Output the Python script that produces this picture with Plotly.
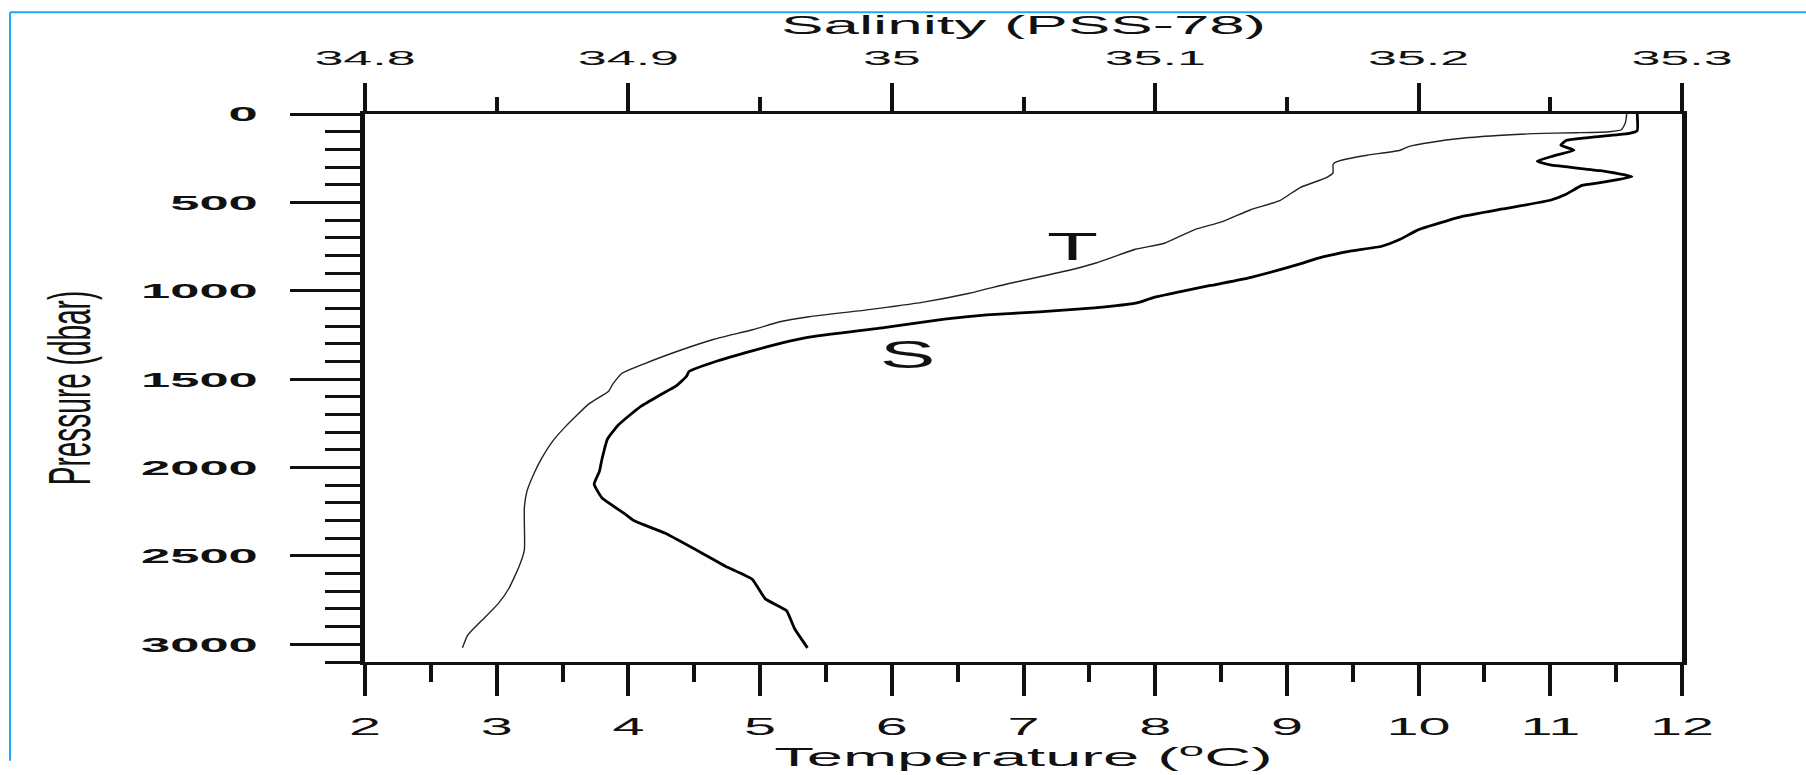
import plotly.graph_objects as go

# ---------------- data ----------------
PRESSURE_T = [0, 50, 89, 100, 106, 111, 122, 139, 160, 183, 205, 233, 260, 277, 288,
              333, 360, 416, 488, 543, 609, 654, 731, 765, 843, 887, 959, 1014, 1064,
              1108, 1147, 1175, 1219, 1274, 1335, 1413, 1468, 1530, 1568, 1640, 1770,
              1856, 1950, 2039, 2133, 2227, 2316, 2466, 2560, 2687, 2771, 2870, 2948, 3020]
TEMPERATURE = [11.58, 11.57, 11.54, 11.45, 11.2, 10.87, 10.6, 10.31, 10.1, 9.93, 9.86, 9.61,
               9.42, 9.36, 9.35, 9.35, 9.30, 9.10, 8.95, 8.72, 8.51, 8.30, 8.07, 7.85, 7.55,
               7.33, 6.89, 6.59, 6.24, 5.81, 5.37, 5.15, 4.95, 4.65, 4.40, 4.12, 3.95, 3.88,
               3.85, 3.70, 3.52, 3.42, 3.34, 3.28, 3.23, 3.21, 3.21, 3.21, 3.17, 3.09, 3.01,
               2.88, 2.78, 2.74]

PRESSURE_S = [0, 94, 110, 127, 150, 177, 205, 238, 266, 288, 321, 355, 388, 404, 454, 488,
              537, 582, 654, 709, 748, 776, 815, 848, 925, 970, 1040, 1069, 1097, 1119, 1136,
              1160, 1208, 1263, 1296, 1340, 1396, 1457, 1485, 1540, 1590, 1651, 1710, 1762,
              1840, 1950, 2022, 2094, 2172, 2255, 2300, 2372, 2493, 2560, 2632, 2743, 2809,
              2909, 3020]
SALINITY = [35.283, 35.283, 35.280, 35.269, 35.256, 35.254, 35.259, 35.251, 35.245, 35.250,
            35.269, 35.281, 35.269, 35.262, 35.256, 35.250, 35.232, 35.216, 35.200, 35.193,
            35.186, 35.174, 35.162, 35.155, 35.136, 35.121, 35.099, 35.093, 35.077, 35.056,
            35.036, 35.020, 34.997, 34.968, 34.958, 34.947, 34.934, 34.923, 34.922, 34.918,
            34.912, 34.905, 34.900, 34.896, 34.892, 34.890, 34.889, 34.887, 34.890, 34.898,
            34.902, 34.914, 34.929, 34.937, 34.947, 34.952, 34.960, 34.963, 34.968]

TEMP_TICKS = [2, 3, 4, 5, 6, 7, 8, 9, 10, 11, 12]
TEMP_LABELS = ["2", "3", "4", "5", "6", "7", "8", "9", "10", "11", "12"]
SAL_TICKS = [34.8, 34.9, 35.0, 35.1, 35.2, 35.3]
SAL_LABELS = ["34.8", "34.9", "35", "35.1", "35.2", "35.3"]
PRES_TICKS = [0, 500, 1000, 1500, 2000, 2500, 3000]
PRES_LABELS = ["0", "500", "1000", "1500", "2000", "2500", "3000"]

CURVE_NAMES = ["T", "S"]
# ---------------------------------------------------------------

FONT = "Liberation Sans, Arial, Helvetica, sans-serif"
INK = "#111111"

fig = go.Figure()
fig.add_trace(go.Scatter(x=TEMPERATURE, y=PRESSURE_T, mode="lines", name=CURVE_NAMES[0],
                         xaxis="x", yaxis="y",
                         line=dict(color="#222222", width=1.4, shape="spline", smoothing=0.5)))
fig.add_trace(go.Scatter(x=SALINITY, y=PRESSURE_S, mode="lines", name=CURVE_NAMES[1],
                         xaxis="x2", yaxis="y",
                         line=dict(color="#000000", width=2.8, shape="spline", smoothing=0.4)))

fig.update_layout(
    width=1806, height=775,
    margin=dict(l=365, r=124, t=114, b=101),
    paper_bgcolor="white", plot_bgcolor="white",
    showlegend=False,
    font=dict(family=FONT, color=INK),
    xaxis=dict(
        range=[2, 12], tickmode="array", tickvals=TEMP_TICKS, ticktext=TEMP_LABELS,
        ticks="outside", ticklen=31, tickwidth=3.5, tickcolor=INK,
        minor=dict(tick0=2, dtick=0.5, ticks="outside", ticklen=17, tickwidth=3.5, tickcolor=INK),
        showline=True, linewidth=2.5, linecolor=INK,
        showgrid=False, zeroline=False,
        tickfont=dict(size=24, color=INK), ticklabelstandoff=10,
        title=dict(text="Temperature (<sup>o</sup>C)", font=dict(size=26, color=INK), standoff=5),
    ),
    xaxis2=dict(
        range=[34.8, 35.3], overlaying="x", side="top", anchor="y",
        tickmode="array", tickvals=SAL_TICKS, ticktext=SAL_LABELS,
        ticks="outside", ticklen=28, tickwidth=3.5, tickcolor=INK,
        minor=dict(tick0=34.8, dtick=0.05, ticks="outside", ticklen=14, tickwidth=3.5, tickcolor=INK),
        showline=True, linewidth=2.5, linecolor=INK,
        showgrid=False, zeroline=False,
        tickfont=dict(size=20, color=INK), ticklabelstandoff=10,
        title=dict(text="Salinity (PSS-78)", font=dict(size=26, color=INK), standoff=6),
    ),
    yaxis=dict(
        range=[3100, 0], tickmode="array", tickvals=PRES_TICKS, ticktext=PRES_LABELS,
        ticks="outside", ticklen=70, tickwidth=2.5, tickcolor=INK,
        minor=dict(tick0=0, dtick=100, ticks="outside", ticklen=35, tickwidth=2.5, tickcolor=INK),
        showline=True, linewidth=5, linecolor=INK, mirror=True,
        showgrid=False, zeroline=False,
        tickfont=dict(size=21, color=INK, weight=700), ticklabelstandoff=28,
        title=dict(text="Pressure (dbar)", font=dict(size=28, color=INK), standoff=124),
    ),
    annotations=[
        dict(x=7.37, y=753, xref="x", yref="y", text=CURVE_NAMES[0], showarrow=False,
             font=dict(size=38, color=INK)),
        dict(x=6.12, y=1363, xref="x", yref="y", text=CURVE_NAMES[1], showarrow=False,
             font=dict(size=38, color=INK)),
    ],
    shapes=[
        # light-blue frame of the original screenshot (left and top edges)
        dict(type="line", xref="paper", yref="paper",
             x0=(10 - 365) / 1317, x1=(10 - 365) / 1317,
             y0=-101 / 560, y1=(674 - 10) / 560,
             line=dict(color="#1eaaf0", width=2)),
        dict(type="line", xref="paper", yref="paper",
             x0=(10 - 365) / 1317, x1=(1806 - 365) / 1317,
             y0=(674 - 10) / 560, y1=(674 - 10) / 560,
             line=dict(color="#1eaaf0", width=2)),
    ],
)

# Page margin off, and widen text glyphs like the horizontally stretched original.
STRETCH_JS = """
document.body.style.margin = '0';
document.body.style.padding = '0';
var gd = document.getElementById('{plot_id}');
function stretchAll(){
  var rules = [
    ['.xtick text', 2.4, 'x'],
    ['.x2tick text', 2.6, 'x'],
    ['.ytick text', 2.5, 'x'],
    ['.g-xtitle text', 2.5, 'x'],
    ['.g-x2title text', 2.45, 'x'],
    ['.g-ytitle text', 2.1, 'y'],
    ['.annotation-text', 2.2, 'x']
  ];
  rules.forEach(function(r){
    gd.querySelectorAll(r[0]).forEach(function(el){
      var cur = el.getAttribute('transform') || '';
      if (el.__done !== undefined && el.__done === cur) return;
      var base = cur;
      var bb = el.getBBox();
      var anchor = el.getAttribute('text-anchor') || 'start';
      var extra;
      if (r[2] === 'x') {
        var ax = anchor === 'end' ? bb.x + bb.width : (anchor === 'middle' ? bb.x + bb.width / 2 : bb.x);
        extra = ' translate(' + ax + ',0) scale(' + r[1] + ',1) translate(' + (-ax) + ',0)';
      } else {
        var ay = bb.y + bb.height / 2;
        extra = ' translate(0,' + ay + ') scale(1,' + r[1] + ') translate(0,' + (-ay) + ')';
      }
      var nt = base + extra;
      el.setAttribute('transform', nt);
      el.__done = nt;
    });
  });
}
stretchAll();
gd.on('plotly_afterplot', stretchAll);
"""

fig.write_html("out.html", post_script=STRETCH_JS, config={"displayModeBar": False})
